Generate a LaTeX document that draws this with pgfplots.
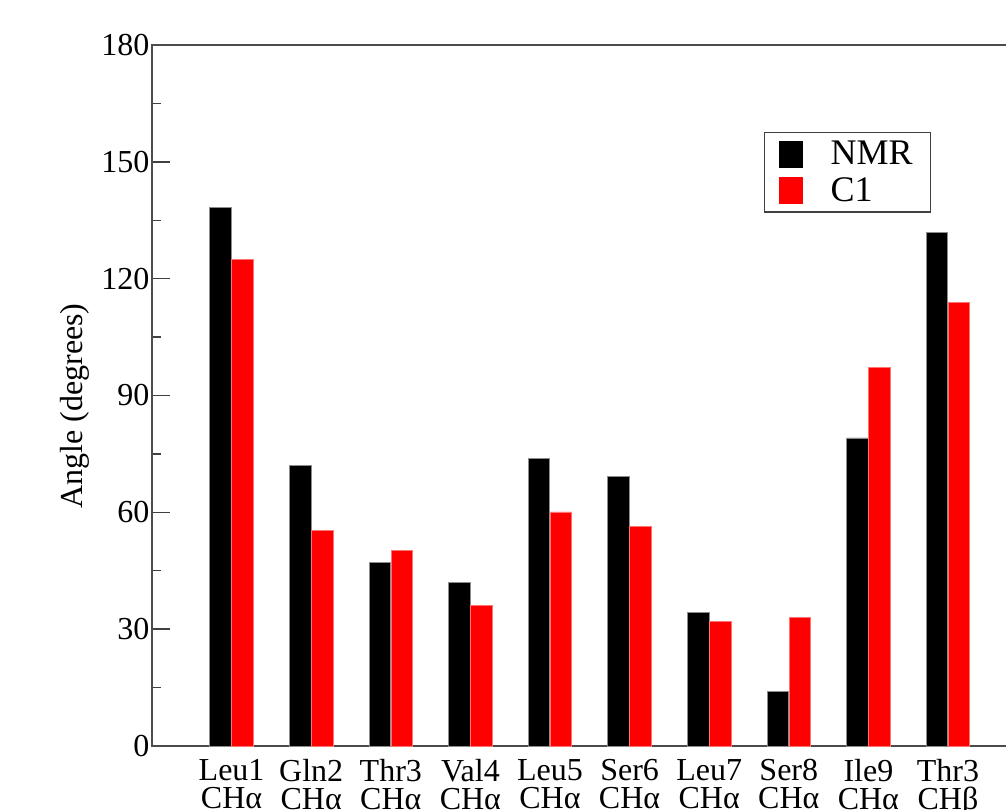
\documentclass[border=0pt]{standalone}
\usepackage{fontspec}
\setmainfont{Liberation Serif}
\usepackage{pgfplots}
\pgfplotsset{compat=1.18}
\begin{document}
\begin{tikzpicture}
\useasboundingbox (-76pt,-31.5pt) rectangle (427pt,373pt);
\clip (-76pt,-31.5pt) rectangle (427pt,373pt);
\begin{axis}[
  scale only axis,
  width=437.8pt, height=350.5pt,
  xmin=0, xmax=11, ymin=0, ymax=180,
  axis line style={black!70, line width=0.7pt},
  font=\fontsize{16pt}{19pt}\selectfont,
  /pgf/number format/assume math mode=true,
  ytick={0,30,60,90,120,150,180},
  minor y tick num=1,
  ytick pos=left,
  tick align=inside,
  major tick length=9pt, minor tick length=4.5pt,
  tick style={black!75, line width=0.7pt},
  yticklabel style={xshift=2.2pt},
  xtick={1,2,3,4,5,6,7,8,9,10},
  xticklabels={{Leu1\\CHα},{Gln2\\CHα},{Thr3\\CHα},{Val4\\CHα},{Leu5\\CHα},{Ser6\\CHα},{Leu7\\CHα},{Ser8\\CHα},{Ile9\\CHα},{Thr3\\CHβ}},
  xticklabel style={align=center, font=\fontsize{16pt}{13.9pt}\selectfont, yshift=-3.2pt},
  x tick style={draw=none},
  xtick pos=bottom,
  ylabel={Angle (degrees)},
  every axis y label/.style={at={(axis description cs:-0.0885,0.485)}, rotate=90, anchor=center},
  legend style={at={(axis description cs:0.699,0.876)}, anchor=north west,
    draw=black!75, line width=0.7pt, font=\fontsize{18pt}{18pt}\selectfont,
    inner xsep=7pt, inner ysep=2pt, row sep=1pt, cells={anchor=west}},
]
\addplot[ybar, bar width=10.75pt, bar shift=-5.5pt, fill=black, draw=black!45, line width=0.4pt,
  legend image code/.code={\fill[black] (0pt,-6.5pt) rectangle (11.5pt,6.5pt);}]
  coordinates {(1,138.2) (2,72.1) (3,47.2) (4,42.0) (5,73.9) (6,69.2) (7,34.3) (8,13.9) (9,79.1) (10,131.9)};
\addlegendentry{\hspace{12pt}NMR}
\addplot[ybar, bar width=10.75pt, bar shift=5.5pt, fill=red, draw=red!55!white, line width=0.4pt,
  legend image code/.code={\fill[red] (0pt,-6.5pt) rectangle (11.5pt,6.5pt);}]
  coordinates {(1,125.0) (2,55.3) (3,50.1) (4,36.2) (5,60.1) (6,56.4) (7,32.0) (8,33.1) (9,97.1) (10,114.0)};
\addlegendentry{\hspace{12pt}C1}
\end{axis}
\end{tikzpicture}
\end{document}
